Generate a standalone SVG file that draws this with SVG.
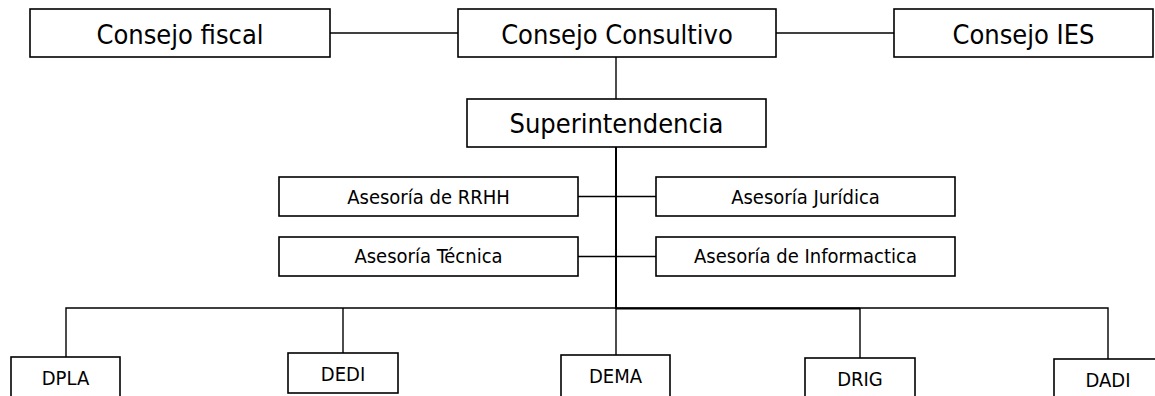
<svg xmlns="http://www.w3.org/2000/svg" width="1155" height="396" viewBox="0 0 1155 396">
<style>
.box{fill:#fff;stroke:#000;stroke-width:1.6}
.t{font-family:"DejaVu Sans Condensed","DejaVu Sans",sans-serif;fill:#000;text-anchor:middle}
.l{font-size:27px}
.m{font-size:20px}
.s{font-size:20px}
.c{fill:none;stroke:#000;stroke-width:1.4}
.cb{fill:none;stroke:#000;stroke-width:2}
</style>
<rect width="1155" height="396" fill="#fff"/>
<g id="connectors">
<line class="c" x1="330" y1="33" x2="458" y2="33"/>
<line class="c" x1="776" y1="33" x2="894" y2="33"/>
<line class="c" x1="616" y1="57" x2="616" y2="99"/>
<line class="cb" x1="616" y1="147" x2="616" y2="309"/>
<line class="c" x1="578" y1="196.5" x2="656" y2="196.5"/>
<line class="c" x1="578" y1="256.5" x2="656" y2="256.5"/>
<polyline class="c" points="66,357 66,308 1108,308 1108,359"/>
<line class="cb" x1="616" y1="308.5" x2="860" y2="308.5"/>
<line class="c" x1="343" y1="308" x2="343" y2="353"/>
<line class="c" x1="616" y1="308" x2="616" y2="355"/>
<line class="c" x1="860" y1="308" x2="860" y2="358"/>
</g>
<g id="consejo-fiscal">
<rect class="box" x="30" y="9" width="300" height="48"/>
<text class="t l" x="180" y="44">Consejo fiscal</text>
</g>
<g id="consejo-consultivo">
<rect class="box" x="458" y="9" width="318" height="48"/>
<text class="t l" x="617" y="44">Consejo Consultivo</text>
</g>
<g id="consejo-ies">
<rect class="box" x="894" y="9" width="259" height="48"/>
<text class="t l" x="1023.5" y="44">Consejo IES</text>
</g>
<g id="superintendencia">
<rect class="box" x="467" y="99" width="299" height="48"/>
<text class="t l" x="616.5" y="133">Superintendencia</text>
</g>
<g id="asesoria-rrhh">
<rect class="box" x="279" y="177" width="299" height="39"/>
<text class="t m" x="428.5" y="204">Asesoría de RRHH</text>
</g>
<g id="asesoria-juridica">
<rect class="box" x="656" y="177" width="299" height="39"/>
<text class="t m" x="805.5" y="204">Asesoría Jurídica</text>
</g>
<g id="asesoria-tecnica">
<rect class="box" x="279" y="237" width="299" height="39"/>
<text class="t m" x="428.5" y="263">Asesoría Técnica</text>
</g>
<g id="asesoria-informactica">
<rect class="box" x="656" y="237" width="299" height="39"/>
<text class="t m" x="805.5" y="263">Asesoría de Informactica</text>
</g>
<g id="dpla">
<rect class="box" x="11" y="357" width="109" height="50"/>
<text class="t s" x="65.5" y="385">DPLA</text>
</g>
<g id="dedi">
<rect class="box" x="288" y="353" width="110" height="40"/>
<text class="t s" x="343" y="381">DEDI</text>
</g>
<g id="dema">
<rect class="box" x="561" y="355" width="109" height="50"/>
<text class="t s" x="615.5" y="383">DEMA</text>
</g>
<g id="drig">
<rect class="box" x="805" y="358" width="110" height="50"/>
<text class="t s" x="860" y="386">DRIG</text>
</g>
<g id="dadi">
<rect class="box" x="1054" y="359" width="111" height="50"/>
<text class="t s" x="1108" y="387">DADI</text>
</g>
</svg>
